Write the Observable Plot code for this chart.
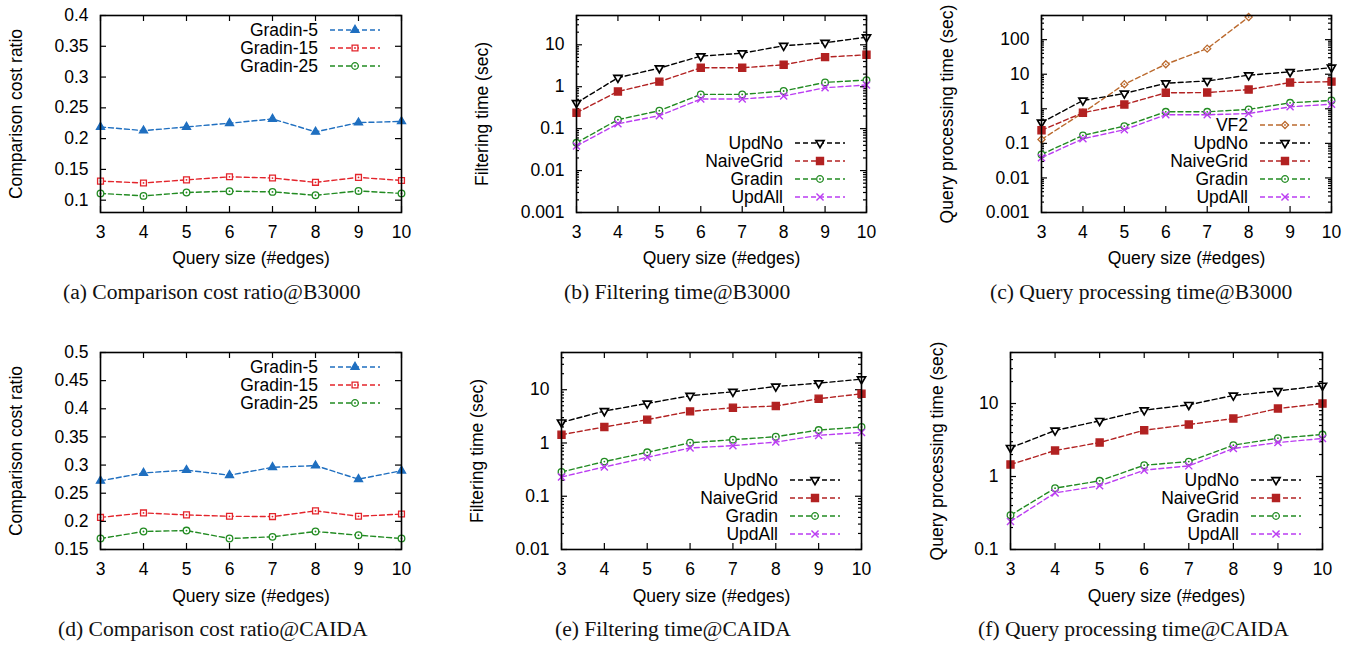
<!DOCTYPE html>
<html><head><meta charset="utf-8">
<script src="https://cdn.jsdelivr.net/npm/d3@7"></script>
<script src="https://cdn.jsdelivr.net/npm/@observablehq/plot@0.6"></script>
<style>
html,body{margin:0;padding:0;background:#fff;}
#root{position:relative;width:1357px;height:646px;overflow:hidden;background:#fff;}
.panel{position:absolute;}
.cap{position:absolute;font-family:"Liberation Serif","Times New Roman",serif;font-size:21.6px;line-height:21.6px;white-space:nowrap;color:#111;}
</style></head><body><div id="root"></div>
<script>
// ---------- data ----------
const querySizes = [3, 4, 5, 6, 7, 8, 9, 10];

// (a) Comparison cost ratio @ B3000
const ratioB3000_g5  = [0.219, 0.213, 0.219, 0.225, 0.232, 0.211, 0.226, 0.228];
const ratioB3000_g15 = [0.131, 0.128, 0.133, 0.138, 0.136, 0.129, 0.137, 0.132];
const ratioB3000_g25 = [0.111, 0.107, 0.1125, 0.1146, 0.1135, 0.108, 0.115, 0.111];

// (b) Filtering time @ B3000
const filtB3000_updNo  = [0.41, 1.64, 2.78, 5.37, 6.3, 9.5, 11.2, 15.2];
const filtB3000_naive  = [0.24, 0.77, 1.32, 2.83, 2.83, 3.34, 5.08, 5.78];
const filtB3000_gradin = [0.046, 0.164, 0.268, 0.656, 0.656, 0.79, 1.27, 1.44];
const filtB3000_updAll = [0.0387, 0.131, 0.204, 0.508, 0.508, 0.6, 0.946, 1.1];

// (c) Query processing time @ B3000
const qpB3000_vf2    = [0.13, 0.77, 5.15, 19.4, 55, 451];
const qpB3000_updNo  = [0.40, 1.74, 2.77, 5.5, 6.4, 9.4, 11.7, 15.6];
const qpB3000_naive  = [0.24, 0.77, 1.33, 2.9, 2.95, 3.6, 5.75, 6.1];
const qpB3000_gradin = [0.048, 0.17, 0.316, 0.82, 0.82, 0.96, 1.49, 1.74];
const qpB3000_updAll = [0.0386, 0.136, 0.248, 0.67, 0.67, 0.73, 1.14, 1.36];

// (d) Comparison cost ratio @ CAIDA
const ratioCAIDA_g5  = [0.272, 0.286, 0.291, 0.282, 0.296, 0.299, 0.275, 0.290];
const ratioCAIDA_g15 = [0.207, 0.215, 0.2115, 0.209, 0.2085, 0.2186, 0.209, 0.213];
const ratioCAIDA_g25 = [0.1695, 0.182, 0.1837, 0.1695, 0.1725, 0.182, 0.1754, 0.1695];

// (e) Filtering time @ CAIDA
const filtCAIDA_updNo  = [2.44, 3.98, 5.54, 7.72, 9.17, 11.5, 13.3, 15.8];
const filtCAIDA_naive  = [1.43, 2.0, 2.74, 3.92, 4.6, 4.94, 6.78, 8.4];
const filtCAIDA_gradin = [0.286, 0.447, 0.668, 1.01, 1.155, 1.31, 1.75, 2.0];
const filtCAIDA_updAll = [0.23, 0.355, 0.538, 0.806, 0.89, 1.04, 1.39, 1.58];

// (f) Query processing time @ CAIDA
const qpCAIDA_updNo  = [2.47, 4.27, 5.79, 8.1, 9.6, 12.9, 14.9, 17.6];
const qpCAIDA_naive  = [1.46, 2.27, 2.92, 4.31, 5.15, 6.23, 8.54, 10.0];
const qpCAIDA_gradin = [0.295, 0.692, 0.873, 1.43, 1.6, 2.69, 3.35, 3.76];
const qpCAIDA_updAll = [0.242, 0.597, 0.745, 1.22, 1.4, 2.42, 2.92, 3.32];

// tick values and labels
const xTicks = [3, 4, 5, 6, 7, 8, 9, 10];
const xTickLabels = ["3", "4", "5", "6", "7", "8", "9", "10"];
const yTicksRatioB = [0.1, 0.15, 0.2, 0.25, 0.3, 0.35, 0.4];
const yTickLabelsRatioB = ["0.1", "0.15", "0.2", "0.25", "0.3", "0.35", "0.4"];
const yTicksRatioC = [0.15, 0.2, 0.25, 0.3, 0.35, 0.4, 0.45, 0.5];
const yTickLabelsRatioC = ["0.15", "0.2", "0.25", "0.3", "0.35", "0.4", "0.45", "0.5"];
const yTicksLog3 = [0.001, 0.01, 0.1, 1, 10];
const yTickLabelsLog3 = ["0.001", "0.01", "0.1", "1", "10"];
const yTicksLog3b = [0.001, 0.01, 0.1, 1, 10, 100];
const yTickLabelsLog3b = ["0.001", "0.01", "0.1", "1", "10", "100"];
const yTicksLog2 = [0.01, 0.1, 1, 10];
const yTickLabelsLog2 = ["0.01", "0.1", "1", "10"];
const yTicksLog1 = [0.1, 1, 10];
const yTickLabelsLog1 = ["0.1", "1", "10"];

const xLabel = "Query size (#edges)";
const captions = [
  "(a) Comparison cost ratio@B3000", "(b) Filtering time@B3000", "(c) Query processing time@B3000",
  "(d) Comparison cost ratio@CAIDA", "(e) Filtering time@CAIDA", "(f) Query processing time@CAIDA"
];

// ---------- styles ----------
const triangleDown = {
  draw(context, size) {
    const y = Math.sqrt(size / (Math.sqrt(3) * 3));
    context.moveTo(0, y * 2);
    context.lineTo(-Math.sqrt(3) * y, -y);
    context.lineTo(Math.sqrt(3) * y, -y);
    context.closePath();
  }
};
const seriesStyle = {
  "Gradin-5":  {color: "#1f6fc0", symbol: d3.symbolTriangle, r: 3.0, fill: "#1f6fc0", dot: false, sw: 1.3},
  "Gradin-15": {color: "#e3242b", symbol: d3.symbolSquare,   r: 3.3, fill: "white",   dot: true,  sw: 1.3},
  "Gradin-25": {color: "#228b22", symbol: d3.symbolCircle,   r: 3.3, fill: "white",   dot: true,  sw: 1.3},
  "VF2":       {color: "#bb6a2e", symbol: d3.symbolDiamond2, r: 3.2, fill: "white",   dot: true,  sw: 1.3},
  "UpdNo":     {color: "#000000", symbol: triangleDown,      r: 3.0, fill: "white",   dot: false, sw: 1.7},
  "NaiveGrid": {color: "#b22222", symbol: d3.symbolSquare,   r: 4.0, fill: "#b22222", dot: false, sw: 1.3},
  "Gradin":    {color: "#228b22", symbol: d3.symbolCircle,   r: 3.3, fill: "white",   dot: true,  sw: 1.3},
  "UpdAll":    {color: "#bb3df2", symbol: d3.symbolTimes,    r: 3.3, fill: "none",    dot: false, sw: 1.4}
};
const FONT = '"Liberation Sans", Arial, Helvetica, sans-serif';
const FS = 17.5;
const DASH = "5,3";

function minorLogTicks([lo, hi]) {
  const out = [];
  for (let e = Math.floor(Math.log10(lo)); e <= Math.ceil(Math.log10(hi)); e++) {
    for (let k = 2; k <= 9; k++) {
      const v = k * Math.pow(10, e);
      if (v > lo * 1.0001 && v <= hi * 1.0001) out.push(v);
    }
  }
  return out;
}

function legendMark(entries, anchor) {
  return (index, scales, values, dims) => {
    const g = d3.create("svg:g");
    const right = dims.width - dims.marginRight;
    const n = entries.length;
    entries.forEach((name, i) => {
      const st = seriesStyle[name];
      const cy = anchor === "top"
        ? dims.marginTop + 15 + 18 * i
        : dims.height - dims.marginBottom - 15 - 18 * (n - 1 - i);
      g.append("text").attr("x", right - 83).attr("y", cy).attr("dy", "0.35em")
        .attr("text-anchor", "end").attr("font-size", FS).attr("fill", "#000").text(name);
      g.append("line").attr("x1", right - 71).attr("x2", right - 21).attr("y1", cy).attr("y2", cy)
        .attr("stroke", st.color).attr("stroke-width", 1.4).attr("stroke-dasharray", DASH);
      g.append("path").attr("transform", `translate(${right - 46},${cy})`)
        .attr("d", d3.symbol(st.symbol, Math.PI * st.r * st.r)())
        .attr("fill", st.fill).attr("stroke", st.color).attr("stroke-width", st.sw);
      if (st.dot) g.append("circle").attr("cx", right - 46).attr("cy", cy).attr("r", 0.9).attr("fill", st.color);
    });
    return g.node();
  };
}

function makePanel(cfg) {
  const {left, top, width, height, ml, mr, mt, mb} = cfg;
  const W = width - ml - mr, H = height - mt - mb;
  const isLog = cfg.yType === "log";
  const marks = [];
  const tickStyle = {stroke: "#000", strokeWidth: 1.2};
  marks.push(Plot.tickX(xTicks, {x: d => d, insetTop: H - 6, ...tickStyle}));
  marks.push(Plot.tickX(xTicks, {x: d => d, insetBottom: H - 6, ...tickStyle}));
  marks.push(Plot.tickY(cfg.yTicks, {y: d => d, insetRight: W - 6, ...tickStyle}));
  marks.push(Plot.tickY(cfg.yTicks, {y: d => d, insetLeft: W - 6, ...tickStyle}));
  if (isLog) {
    const minor = minorLogTicks(cfg.yDomain);
    marks.push(Plot.tickY(minor, {y: d => d, insetRight: W - 3, ...tickStyle}));
    marks.push(Plot.tickY(minor, {y: d => d, insetLeft: W - 3, ...tickStyle}));
  }
  marks.push(Plot.axisX(xTicks, {anchor: "bottom", tickSize: 0, tickPadding: 13, fontSize: FS, label: null,
    tickFormat: d => xTickLabels[xTicks.indexOf(d)]}));
  marks.push(Plot.axisY(cfg.yTicks, {anchor: "left", tickSize: 0, tickPadding: 12, fontSize: FS, label: null,
    tickFormat: d => cfg.yTickLabels[cfg.yTicks.indexOf(d)]}));
  for (const s of cfg.series) {
    const st = seriesStyle[s.name];
    const rows = s.values.map((v, i) => ({x: querySizes[i], y: v}));
    marks.push(Plot.line(rows, {x: "x", y: "y", stroke: st.color, strokeWidth: 1.4, strokeDasharray: DASH}));
    marks.push(Plot.dot(rows, {x: "x", y: "y", symbol: st.symbol, r: st.r, fill: st.fill, stroke: st.color, strokeWidth: st.sw}));
    if (st.dot) marks.push(Plot.dot(rows, {x: "x", y: "y", r: 0.9, fill: st.color}));
  }
  marks.push(Plot.frame({stroke: "#000", strokeWidth: 1.6}));
  marks.push(legendMark(cfg.series.map(s => s.name), cfg.legend));
  marks.push(Plot.text([cfg.yLabel], {text: d => d, frameAnchor: "left", textAnchor: "middle", lineAnchor: "middle",
    dx: cfg.yLabelDx, rotate: -90, fontSize: FS, fill: "#000"}));
  marks.push(Plot.text([xLabel], {text: d => d, frameAnchor: "bottom", textAnchor: "middle", lineAnchor: "middle",
    dy: cfg.xLabelDy, fontSize: FS, fill: "#000"}));

  const chart = Plot.plot({
    width, height, marginLeft: ml, marginRight: mr, marginTop: mt, marginBottom: mb,
    style: {fontFamily: FONT, fontSize: FS + "px", color: "#000", background: "transparent", overflow: "visible"},
    x: {type: "linear", domain: [3, 10]},
    y: {type: isLog ? "log" : "linear", domain: cfg.yDomain},
    marks
  });
  const div = document.createElement("div");
  div.className = "panel";
  div.style.left = left + "px";
  div.style.top = top + "px";
  div.appendChild(chart);
  document.getElementById("root").appendChild(div);
}

const root = document.getElementById("root");

makePanel({left: 0, top: 0, width: 450, height: 290, ml: 100, mr: 49, mt: 15, mb: 78,
  yType: "linear", yDomain: [0.08, 0.4], yTicks: yTicksRatioB, yTickLabels: yTickLabelsRatioB,
  yLabel: "Comparison cost ratio", yLabelDx: -84, xLabelDy: 46, legend: "top",
  series: [{name: "Gradin-5", values: ratioB3000_g5}, {name: "Gradin-15", values: ratioB3000_g15}, {name: "Gradin-25", values: ratioB3000_g25}]});

makePanel({left: 450, top: 0, width: 450, height: 290, ml: 126, mr: 34, mt: 15, mb: 78,
  yType: "log", yDomain: [0.001, 50], yTicks: yTicksLog3, yTickLabels: yTickLabelsLog3,
  yLabel: "Filtering time (sec)", yLabelDx: -94, xLabelDy: 46, legend: "bottom",
  series: [{name: "UpdNo", values: filtB3000_updNo}, {name: "NaiveGrid", values: filtB3000_naive},
           {name: "Gradin", values: filtB3000_gradin}, {name: "UpdAll", values: filtB3000_updAll}]});

makePanel({left: 900, top: 0, width: 457, height: 290, ml: 141, mr: 26, mt: 15, mb: 78,
  yType: "log", yDomain: [0.001, 500], yTicks: yTicksLog3b, yTickLabels: yTickLabelsLog3b,
  yLabel: "Query processing time (sec)", yLabelDx: -94, xLabelDy: 46, legend: "bottom",
  series: [{name: "VF2", values: qpB3000_vf2}, {name: "UpdNo", values: qpB3000_updNo}, {name: "NaiveGrid", values: qpB3000_naive},
           {name: "Gradin", values: qpB3000_gradin}, {name: "UpdAll", values: qpB3000_updAll}]});

makePanel({left: 0, top: 320, width: 450, height: 300, ml: 100, mr: 49, mt: 32, mb: 71,
  yType: "linear", yDomain: [0.15, 0.5], yTicks: yTicksRatioC, yTickLabels: yTickLabelsRatioC,
  yLabel: "Comparison cost ratio", yLabelDx: -84, xLabelDy: 47, legend: "top",
  series: [{name: "Gradin-5", values: ratioCAIDA_g5}, {name: "Gradin-15", values: ratioCAIDA_g15}, {name: "Gradin-25", values: ratioCAIDA_g25}]});

makePanel({left: 450, top: 320, width: 450, height: 300, ml: 111, mr: 39, mt: 32, mb: 71,
  yType: "log", yDomain: [0.01, 50], yTicks: yTicksLog2, yTickLabels: yTickLabelsLog2,
  yLabel: "Filtering time (sec)", yLabelDx: -84, xLabelDy: 47, legend: "bottom",
  series: [{name: "UpdNo", values: filtCAIDA_updNo}, {name: "NaiveGrid", values: filtCAIDA_naive},
           {name: "Gradin", values: filtCAIDA_gradin}, {name: "UpdAll", values: filtCAIDA_updAll}]});

makePanel({left: 900, top: 320, width: 457, height: 300, ml: 110, mr: 35, mt: 32, mb: 71,
  yType: "log", yDomain: [0.1, 50], yTicks: yTicksLog1, yTickLabels: yTickLabelsLog1,
  yLabel: "Query processing time (sec)", yLabelDx: -73, xLabelDy: 47, legend: "bottom",
  series: [{name: "UpdNo", values: qpCAIDA_updNo}, {name: "NaiveGrid", values: qpCAIDA_naive},
           {name: "Gradin", values: qpCAIDA_gradin}, {name: "UpdAll", values: qpCAIDA_updAll}]});

// captions
const capPos = [[63, 282], [564, 282], [990, 282], [58, 619], [555, 619], [978, 619]];
captions.forEach((t, i) => {
  const d = document.createElement("div");
  d.className = "cap";
  d.style.left = capPos[i][0] + "px";
  d.style.top = capPos[i][1] + "px";
  d.textContent = t;
  root.appendChild(d);
});
</script>
</body></html>
